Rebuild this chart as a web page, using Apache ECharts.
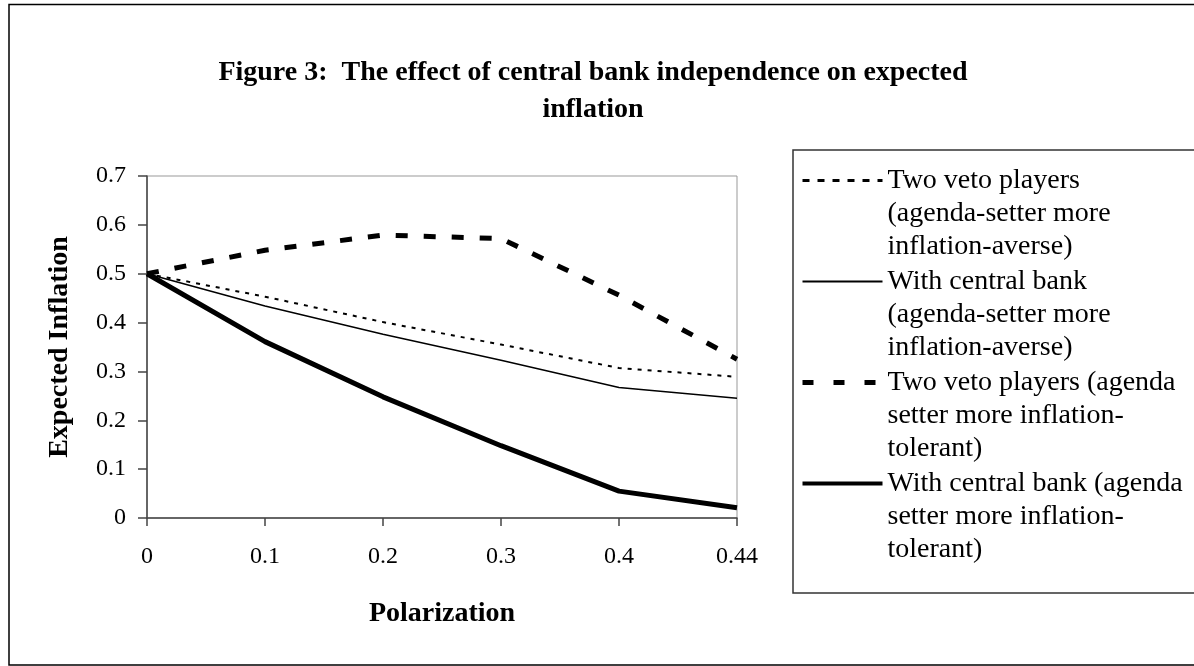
<!DOCTYPE html>
<html>
<head>
<meta charset="utf-8">
<script src="https://cdn.jsdelivr.net/npm/echarts@6/dist/echarts.min.js"></script>
<style>html,body{margin:0;padding:0;background:#fff;}#chart{width:1194px;height:666px;}</style>
</head>
<body>
<div id="chart"></div>
<script>
const categories = ['0', '0.1', '0.2', '0.3', '0.4', '0.44'];
const vetoAverse = [0.5, 0.453, 0.401, 0.355, 0.307, 0.289];
const cbAverse = [0.5, 0.434, 0.376, 0.323, 0.267, 0.245];
const vetoTolerant = [0.5, 0.548, 0.579, 0.572, 0.456, 0.325];
const cbTolerant = [0.5, 0.361, 0.248, 0.148, 0.055, 0.021];
const seriesNames = ['vetoAverse', 'cbAverse', 'vetoTolerant', 'cbTolerant'];
const legendLabels = [
  'Two veto players\n(agenda-setter more\ninflation-averse)',
  'With central bank\n(agenda-setter more\ninflation-averse)',
  'Two veto players (agenda\nsetter more inflation-\ntolerant)',
  'With central bank (agenda\nsetter more inflation-\ntolerant)'
];
const yTicks = [0, 0.1, 0.2, 0.3, 0.4, 0.5, 0.6, 0.7];

const serif = '"Liberation Serif", "DejaVu Serif", serif';
const styles = {
  vetoAverse: { width: 2, type: [4, 6] },
  cbAverse: { width: 1.5, type: 'solid' },
  vetoTolerant: { width: 5, type: [12, 16] },
  cbTolerant: { width: 5, type: 'solid' }
};
const legendStyles = {
  vetoAverse: { width: 3, type: [7, 8] },
  cbAverse: { width: 2, type: 'solid' },
  vetoTolerant: { width: 5, type: [11, 20] },
  cbTolerant: { width: 4, type: 'solid' }
};
const dataMap = { vetoAverse, cbAverse, vetoTolerant, cbTolerant };

const chart = echarts.init(document.getElementById('chart'), null, { renderer: 'canvas' });
chart.setOption({
  animation: false,
  backgroundColor: '#fff',
  title: {
    text: 'Figure 3:  The effect of central bank independence on expected\ninflation',
    left: 593, top: 54, textAlign: 'center', padding: 0,
    textStyle: { fontFamily: serif, fontWeight: 'bold', fontSize: 28, lineHeight: 37, color: '#000' }
  },
  graphic: [
    { type: 'rect', shape: { x: 9, y: 4.5, width: 1200, height: 660.5 }, style: { fill: 'none', stroke: '#000', lineWidth: 1.5 }, silent: true, z: -1 },
    { type: 'rect', shape: { x: 793, y: 150, width: 420, height: 443 }, style: { fill: 'none', stroke: '#333', lineWidth: 1.5 }, silent: true, z: -1 }
  ],
  legend: {
    orient: 'vertical', left: 800, top: 98, padding: 0,
    itemWidth: 80, itemHeight: 14, itemGap: -64,
    selectedMode: false,
    itemStyle: { opacity: 0, color: 'transparent', borderWidth: 0 },
    textStyle: { fontFamily: serif, fontSize: 28, lineHeight: 33, color: '#000' },
    formatter: function (name) { return '\n\n' + legendLabels[seriesNames.indexOf(name)]; },
    data: seriesNames.map(n => ({
      name: n,
      itemStyle: { opacity: 0, color: 'transparent', borderWidth: 0 },
      lineStyle: Object.assign({ color: '#000', opacity: 1 }, legendStyles[n])
    }))
  },
  grid: {
    left: 147, top: 176, right: 457, bottom: 148,
    show: true, borderColor: '#999', borderWidth: 1, backgroundColor: 'transparent'
  },
  xAxis: {
    type: 'category', data: categories, boundaryGap: false,
    name: 'Polarization', nameLocation: 'middle', nameGap: 82,
    nameTextStyle: { fontFamily: serif, fontWeight: 'bold', fontSize: 28, color: '#000' },
    axisLine: { lineStyle: { color: '#444', width: 1.5 } },
    axisTick: { show: true, length: 8, alignWithLabel: true, lineStyle: { color: '#444', width: 1.5 } },
    axisLabel: { margin: 27, fontFamily: serif, fontSize: 24, color: '#000' },
    splitLine: { show: false }
  },
  yAxis: {
    type: 'value', min: yTicks[0], max: yTicks[yTicks.length - 1], interval: 0.1,
    name: 'Expected Inflation', nameLocation: 'middle', nameGap: 73,
    nameTextStyle: { fontFamily: serif, fontWeight: 'bold', fontSize: 28, color: '#000' },
    axisLine: { show: true, lineStyle: { color: '#444', width: 1.5 } },
    axisTick: { show: true, length: 9, lineStyle: { color: '#444', width: 1.5 } },
    axisLabel: { margin: 21, fontFamily: serif, fontSize: 24, color: '#000',
      formatter: v => String(Math.round(v * 10) / 10) },
    splitLine: { show: false }
  },
  series: seriesNames.map(n => ({
    name: n, type: 'line', data: dataMap[n], symbol: 'none',
    lineStyle: Object.assign({ color: '#000' }, styles[n]),
    itemStyle: { color: '#000' }
  }))
});
</script>
</body>
</html>
